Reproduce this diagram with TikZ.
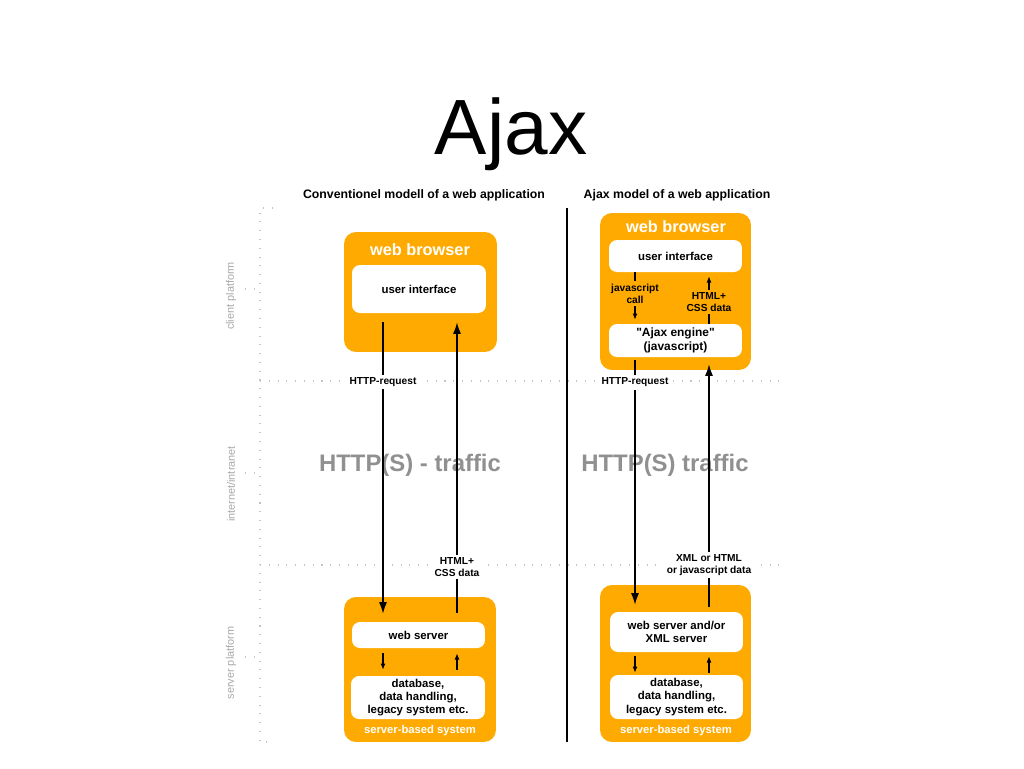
\documentclass[tikz,border=0pt]{standalone}
\usepackage{fontspec}
\setmainfont{Liberation Sans}[Ligatures=TeXOff]
\usetikzlibrary{arrows.meta,positioning,calc}
\definecolor{ajaxorange}{HTML}{FFAA00}
\definecolor{trafficgray}{HTML}{909090}
\definecolor{zonegray}{HTML}{A8A8A8}
\definecolor{dotgray}{HTML}{C4C4C4}

\begin{document}
\begin{tikzpicture}[x=0.02cm,y=-0.02cm,
 every node/.style={align=center,inner sep=0pt},
 shell/.style={fill=ajaxorange,rounded corners=0.24cm},
 inner/.style={fill=white,rounded corners=0.16cm,font=\fontsize{6.5}{7.6}\selectfont\bfseries},
 shelltitle/.style={text=white,font=\fontsize{9.3}{11}\selectfont\bfseries},
 shellfoot/.style={text=white,font=\fontsize{6.4}{7.5}\selectfont\bfseries},
 msg/.style={fill=white,inner sep=1.5pt,font=\fontsize{5.8}{6.8}\selectfont\bfseries},
 wire/.style={line width=0.75pt,-{Latex[length=6.5pt,width=4.5pt]}},
 hop/.style={line width=0.6pt,-{Latex[length=3.5pt,width=2.8pt]}},
 zone/.style={dotgray,line width=0.6pt,dash pattern=on 0.6pt off 4.4pt},
 zonelabel/.style={rotate=90,text=zonegray,font=\fontsize{6.2}{7}\selectfont},
 traffic/.style={text=trafficgray,font=\fontsize{13.6}{15}\selectfont\bfseries},
 heading/.style={anchor=base,font=\fontsize{7}{8}\selectfont\bfseries}]
\useasboundingbox (0,0) rectangle (1024,768);

% zones
\draw[zone] (273,208) -- (260,208) -- (260,742) -- (273,742);
\draw[zone] (260,381) -- (785,381);
\draw[zone] (260,565) -- (785,565);
\foreach \y in {289,473,657}
  \draw[zone] (245,\y) -- (259,\y);
\node[zonelabel] (zclient) at (231,296) {client platform};
\node[zonelabel] (znet) at (231,484) {internet/intranet};
\node[zonelabel] (zserver) at (231,663) {server platform};

% titles
\node[anchor=base,font=\fontsize{44.6}{50}\selectfont] (title) at (511,154) {Ajax};
\node[heading] (lhead) at (424,198) {Conventionel modell of a web application};
\node[heading] (rhead) at (677,198) {Ajax model of a web application};
\draw[line width=1.4pt] (567,208) -- (567,742);

\node[traffic] (ltraffic) at (410,465) {HTTP(S) - traffic};
\node[traffic] (rtraffic) at (665,465) {HTTP(S) traffic};

% conventional model
\node[shell,minimum width=3.06cm,minimum height=2.4cm] (lbrowser) at (420.5,292) {};
\node[shelltitle] (lbrowsertitle) at (420,250) {web browser};
\node[inner,minimum width=2.68cm,minimum height=0.96cm] (lui) at (419,289) {user interface};
\node[shell,minimum width=3.04cm,minimum height=2.9cm] (lserver) at (420,669.5) {};
\node[inner,minimum width=2.66cm,minimum height=0.52cm] (lws) at (418.5,635) {web server};
\node[inner,minimum width=2.68cm,minimum height=0.86cm] (ldb) at (418,697.5) {database,\\data handling,\\legacy system etc.};
\node[shellfoot] (lfoot) at (420,731) {server-based system};

\coordinate (lreq) at (383,0);
\coordinate (lresp) at (457,0);
\draw[wire] ($(lui.south -| lreq)+(0,9)$) -- node[msg,pos=.205] {HTTP-request} ($(lws.north -| lreq)+(0,-8)$);
\draw[wire] ($(lws.north -| lresp)+(0,-9)$) -- node[msg,pos=.158] {HTML+\\CSS data} ($(lui.south -| lresp)+(0,9)$);
\draw[hop] ($(lws.south -| lreq)+(0,5)$) -- ($(ldb.north -| lreq)+(0,-6)$);
\draw[hop] ($(ldb.north -| lresp)+(0,-6)$) -- ($(lws.south -| lresp)+(0,5)$);

% ajax model
\node[shell,minimum width=3.02cm,minimum height=3.14cm] (rbrowser) at (675.5,291.5) {};
\node[shelltitle] (rbrowsertitle) at (676,227) {web browser};
\node[inner,minimum width=2.66cm,minimum height=0.64cm] (rui) at (675.5,256) {user interface};
\node[inner,minimum width=2.66cm,minimum height=0.66cm,font=\fontsize{6.8}{7.8}\selectfont\bfseries] (rengine) at (675.5,340.5) {"Ajax engine"\\(javascript)};
\node[shell,minimum width=3.02cm,minimum height=3.14cm] (rserver) at (675.5,663.5) {};
\node[inner,minimum width=2.66cm,minimum height=0.8cm] (rws) at (676.5,632) {web server and/or\\XML server};
\node[inner,minimum width=2.66cm,minimum height=0.88cm] (rdb) at (676.5,697) {database,\\data handling,\\legacy system etc.};
\node[shellfoot] (rfoot) at (676,731) {server-based system};

\coordinate (rreq) at (635,0);
\coordinate (rresp) at (709,0);
\draw[hop] (rui.south -| rreq) -- node[msg,fill=ajaxorange,pos=.45] {javascript\\call} ($(rengine.north -| rreq)+(0,-4)$);
\draw[hop] (rengine.north -| rresp) -- node[msg,fill=ajaxorange,pos=.46] {HTML+\\CSS data} ($(rui.south -| rresp)+(0,4)$);
\draw[wire] ($(rengine.south -| rreq)+(0,3)$) -- node[msg,pos=.09] {HTTP-request} ($(rws.north -| rreq)+(0,-7)$);
\draw[wire] ($(rws.north -| rresp)+(0,-5)$) -- node[msg,pos=.173] {XML or HTML\\or javascript data} ($(rengine.south -| rresp)+(0,7)$);
\draw[hop] ($(rws.south -| rreq)+(0,4)$) -- ($(rdb.north -| rreq)+(0,-2)$);
\draw[hop] ($(rdb.north -| rresp)+(0,-2)$) -- ($(rws.south -| rresp)+(0,4)$);
\end{tikzpicture}
\end{document}
